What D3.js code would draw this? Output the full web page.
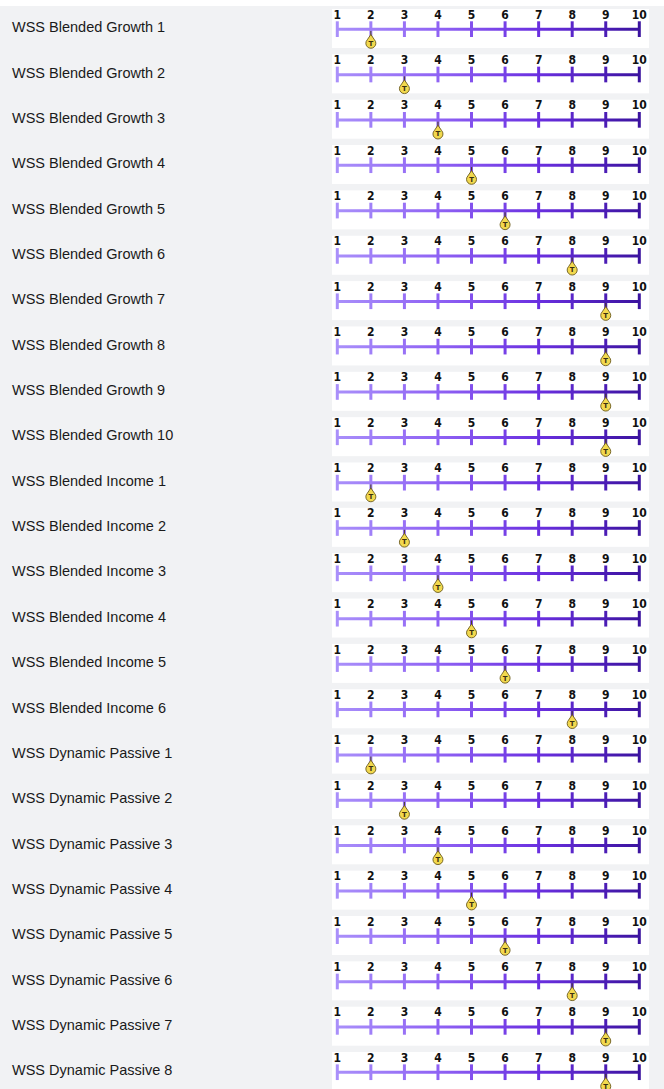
<!DOCTYPE html>
<html><head><meta charset="utf-8">
<script src="https://cdn.jsdelivr.net/npm/d3@7"></script>
<style>
html,body{margin:0;padding:0;background:#f1f2f4;}
svg{display:block;}
</style></head>
<body>
<svg id="chart" width="664" height="1089"></svg>
<script>
const categories = [
  "WSS Blended Growth 1","WSS Blended Growth 2","WSS Blended Growth 3","WSS Blended Growth 4",
  "WSS Blended Growth 5","WSS Blended Growth 6","WSS Blended Growth 7","WSS Blended Growth 8",
  "WSS Blended Growth 9","WSS Blended Growth 10",
  "WSS Blended Income 1","WSS Blended Income 2","WSS Blended Income 3","WSS Blended Income 4",
  "WSS Blended Income 5","WSS Blended Income 6",
  "WSS Dynamic Passive 1","WSS Dynamic Passive 2","WSS Dynamic Passive 3","WSS Dynamic Passive 4",
  "WSS Dynamic Passive 5","WSS Dynamic Passive 6","WSS Dynamic Passive 7","WSS Dynamic Passive 8"
];
const values = [2,3,4,5,6,8,9,9,9,9, 2,3,4,5,6,8, 2,3,4,5,6,8,9,9];
const tickLabels = [1,2,3,4,5,6,7,8,9,10];
const colorStops = ["#a98ffa","#8f62f4","#6a2fe0","#3b139f"];

const svg = d3.select("#chart");
svg.append("rect").attr("x",0).attr("y",0).attr("width",664).attr("height",6).attr("fill","#ffffff");

const x = d3.scaleLinear().domain([1,10]).range([337.3,639.3]);
const rowY = d3.scaleLinear().domain([0,1]).range([9,54.35]);
const colorScale = d3.scaleLinear()
  .domain(d3.range(colorStops.length).map(i => 1 + 9*i/(colorStops.length-1)))
  .range(colorStops).interpolate(d3.interpolateRgb);

const defs = svg.append("defs");
const grad = defs.append("linearGradient").attr("id","g").attr("gradientUnits","userSpaceOnUse")
  .attr("x1",x(1)).attr("x2",x(10)).attr("y1",0).attr("y2",0);
colorStops.forEach((c,i)=>grad.append("stop").attr("offset",(i/(colorStops.length-1)*100)+"%").attr("stop-color",c));

const rows = svg.selectAll("g.row").data(categories).enter().append("g")
  .attr("class","row").attr("transform",(d,i)=>`translate(0,${rowY(i)})`);

rows.append("text").attr("x",12).attr("y",23.3)
  .attr("font-family","'Liberation Sans', Arial, Helvetica, sans-serif").attr("font-size",14.5)
  .attr("fill","#1a1a1a").text(d=>d);

rows.append("rect").attr("x",332).attr("y",0).attr("width",317).attr("height",39).attr("fill","#ffffff");

rows.append("line").attr("x1",x(1)).attr("x2",x(10)).attr("y1",20.3).attr("y2",20.3)
  .attr("stroke","url(#g)").attr("stroke-width",3);

rows.each(function(){
  const g = d3.select(this);
  g.selectAll("line.tick").data(tickLabels).enter().append("line").attr("class","tick")
    .attr("x1",d=>x(d)).attr("x2",d=>x(d)).attr("y1",12.3).attr("y2",28)
    .attr("stroke",d=>colorScale(d)).attr("stroke-width",3);
  g.selectAll("text.tl").data(tickLabels).enter().append("text").attr("class","tl")
    .attr("x",d=>x(d)).attr("y",9.6).attr("text-anchor","middle")
    .attr("font-family","'Liberation Sans Narrow', 'DejaVu Sans Condensed', sans-serif").attr("font-weight","bold")
    .attr("font-size",12).attr("fill","#111").text(d=>d);
});

const m = rows.append("g").attr("transform",(d,i)=>`translate(${x(values[i])},34)`);
m.append("line").attr("x1",0).attr("x2",0).attr("y1",-12).attr("y2",-6).attr("stroke","#4a4020").attr("stroke-width",1);
m.append("path").attr("d","M0,-8.5 L3.6,-3.2 A5,5 0 1 1 -3.6,-3.2 Z")
  .attr("fill","#f2d94e").attr("stroke","#6b5a1c").attr("stroke-width",0.9);
m.append("text").attr("x",0).attr("y",2.6).attr("text-anchor","middle")
  .attr("font-family","'DejaVu Sans', sans-serif").attr("font-weight","bold").attr("font-size",7)
  .attr("fill","#3a3010").text("T");
</script>
</body></html>
